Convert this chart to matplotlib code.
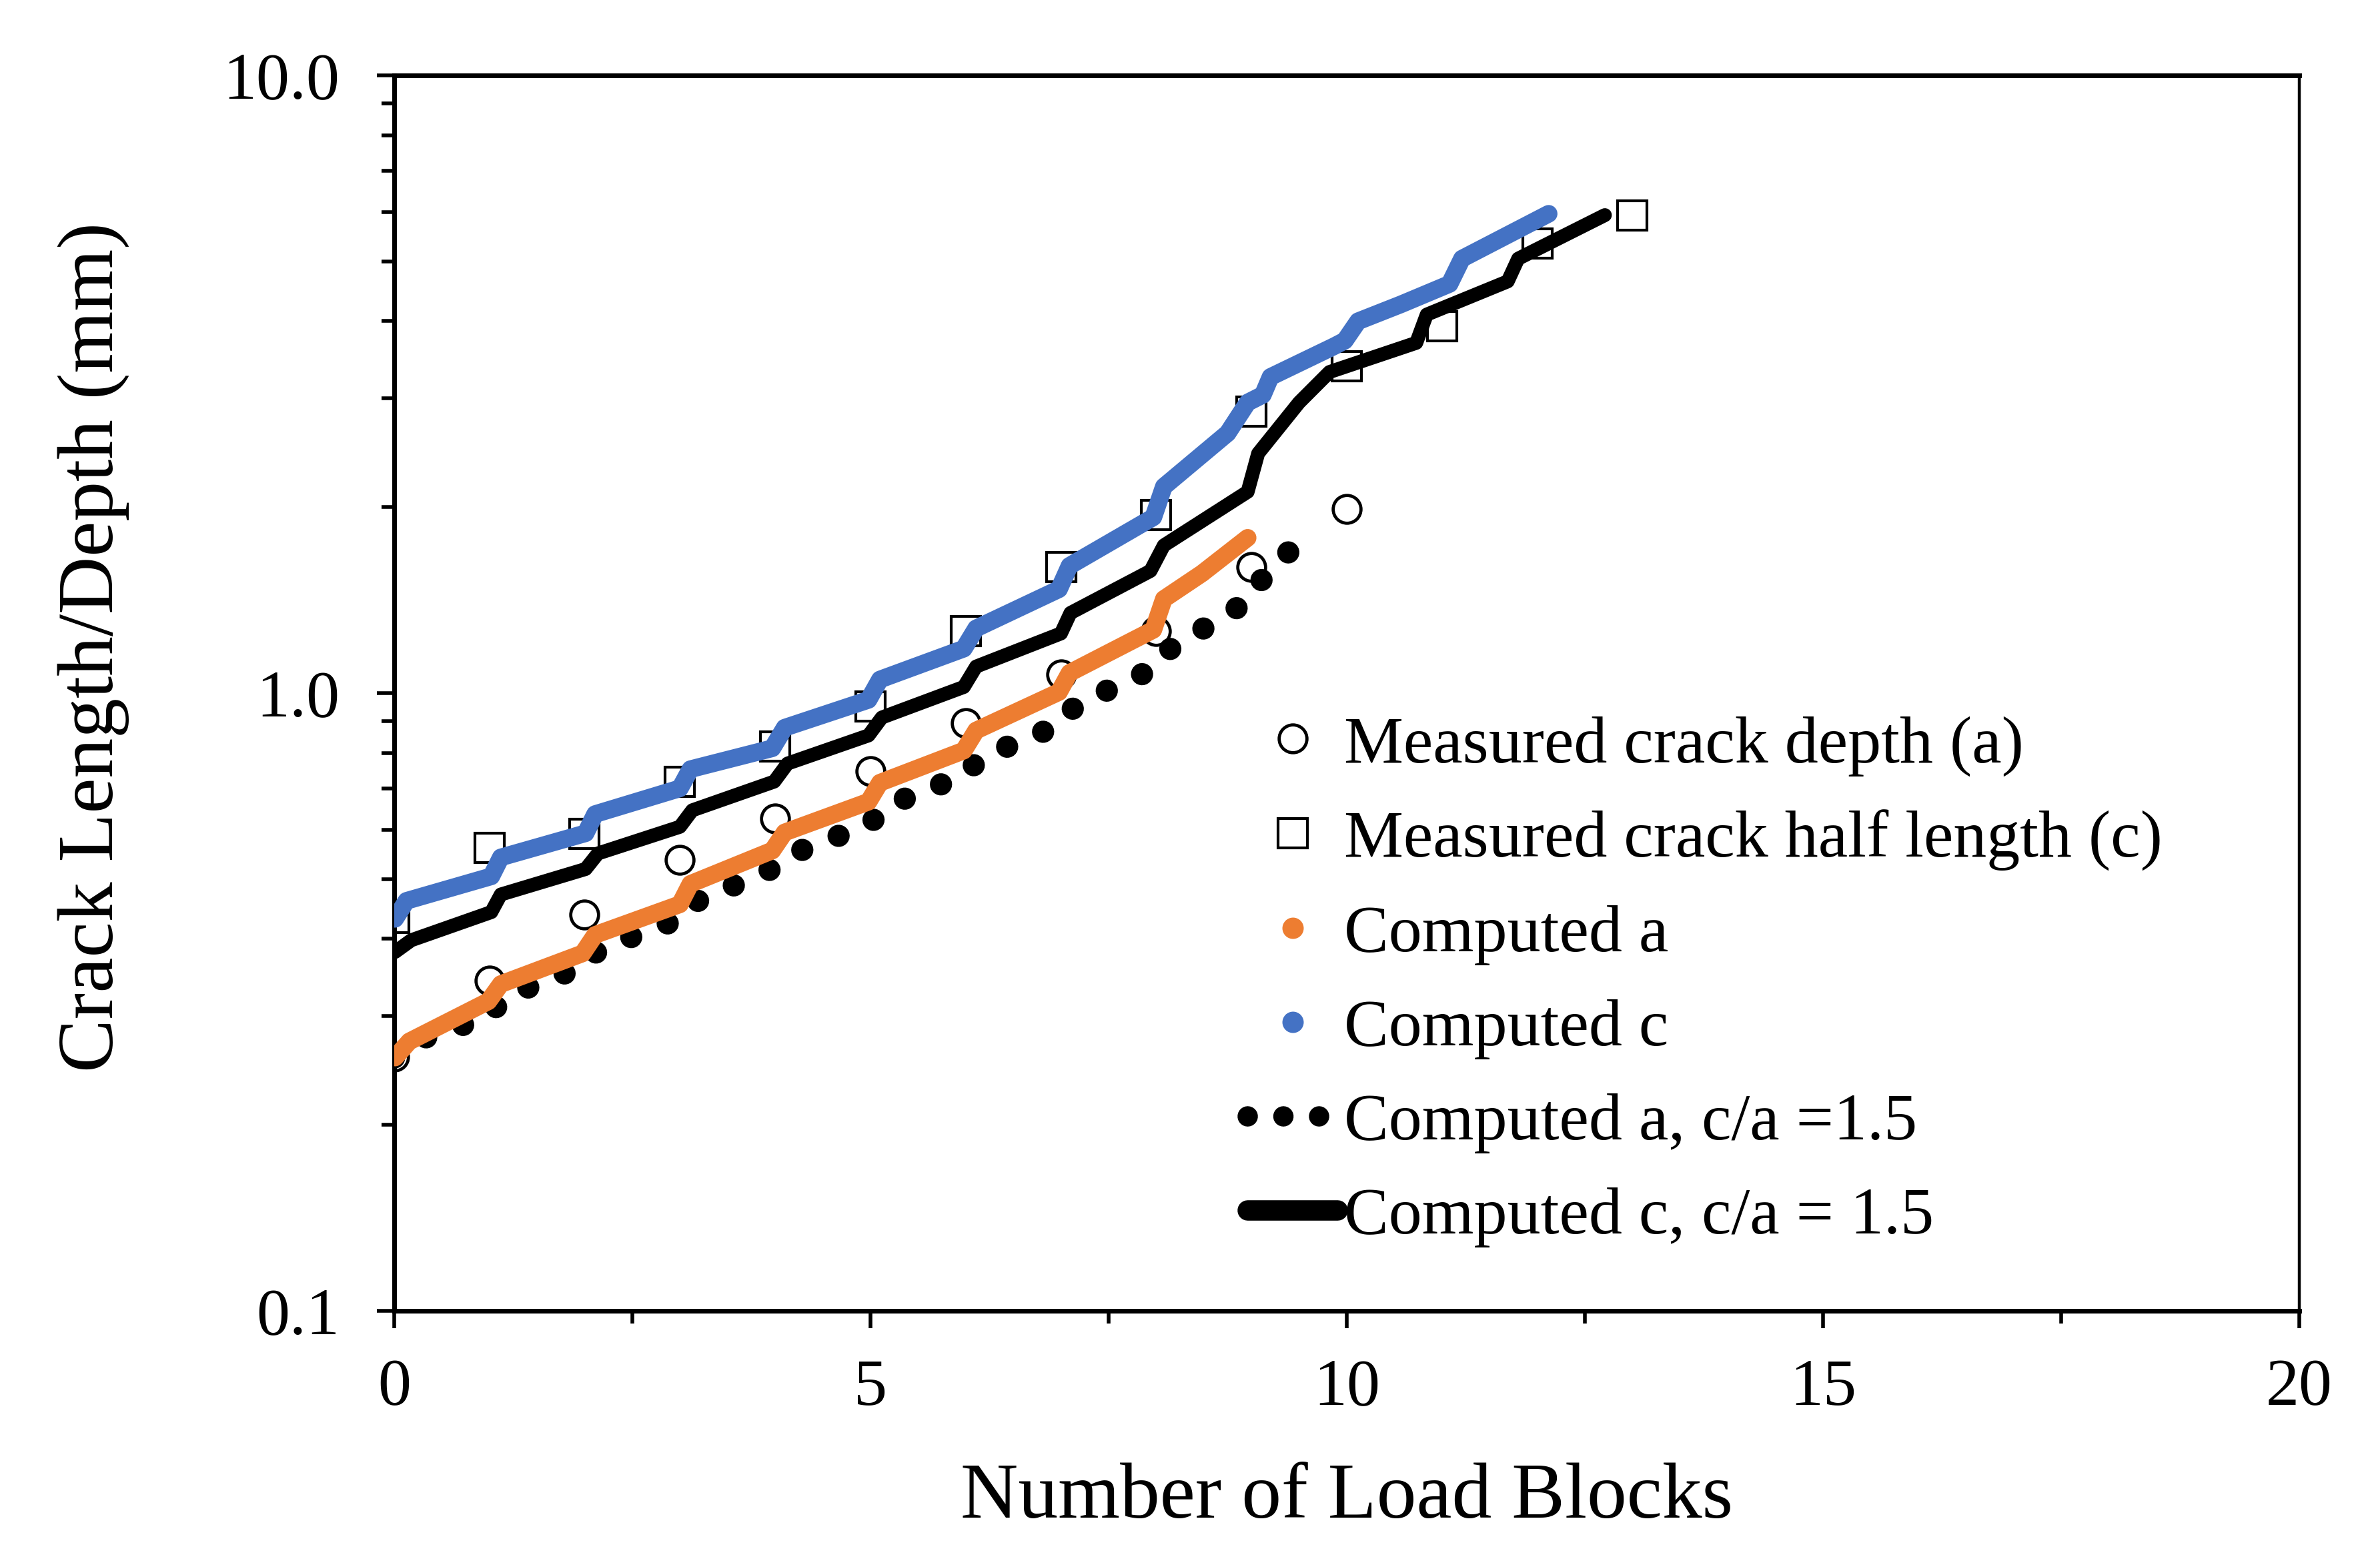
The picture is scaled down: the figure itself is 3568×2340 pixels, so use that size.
import matplotlib
matplotlib.use("Agg")
import matplotlib.pyplot as plt
from matplotlib.lines import Line2D
from matplotlib.ticker import FixedLocator, LogLocator, NullFormatter, FuncFormatter

plt.rcParams['font.family'] = ['Liberation Serif', 'DejaVu Serif']

# measured crack depth a (circles) and half length c (squares)
blocks_a = [0, 1, 2, 3, 4, 5, 6, 7, 8, 9, 10]
meas_a = [0.258, 0.342, 0.438, 0.537, 0.627, 0.747, 0.894, 1.073, 1.261, 1.599, 1.987]
blocks_c = [0, 1, 2, 3, 4, 5, 6, 7, 8, 9, 10, 11, 12, 13]
meas_c = [0.433, 0.561, 0.592, 0.719, 0.820, 0.952, 1.261, 1.599, 1.944, 2.858, 3.38, 3.93, 5.35, 5.93]

# computed a
comp_a_x = [0.01, 0.16, 0.99, 1.12, 1.98, 2.11, 3.00, 3.11, 3.97, 4.10, 4.98, 5.10,
            5.98, 6.11, 6.98, 7.09, 7.97, 8.08, 8.48, 8.96]
comp_a_y = [0.257, 0.273, 0.317, 0.338, 0.379, 0.406, 0.455, 0.491, 0.556, 0.595, 0.667, 0.716,
            0.807, 0.870, 1.004, 1.078, 1.266, 1.42, 1.562, 1.784]

# computed c
comp_c_x = [0.01, 0.13, 1.02, 1.12, 2.01, 2.11, 3.00, 3.11, 3.97, 4.10, 4.98, 5.10,
            5.98, 6.11, 6.98, 7.09, 7.97, 8.08, 8.75, 8.96, 9.12, 9.20, 9.87, 9.98,
            10.12, 10.57, 11.08, 11.21, 12.12]
comp_c_y = [0.431, 0.461, 0.505, 0.542, 0.593, 0.637, 0.701, 0.753, 0.814, 0.879, 0.975, 1.052,
            1.18, 1.273, 1.473, 1.607, 1.926, 2.159, 2.635, 2.954, 3.04, 3.25, 3.645, 3.72,
            4.0, 4.26, 4.596, 5.05, 5.97]

# computed a, c/a = 1.5
comp_a15_x = [0.0, 0.15, 1.0, 1.15, 2.0, 2.15, 3.0, 3.15, 4.0, 4.15, 5.0, 5.15,
              6.0, 6.15, 7.0, 7.15, 8.0, 8.15, 9.0, 9.15, 9.5]
comp_a15_y = [0.257, 0.271, 0.300, 0.322, 0.362, 0.385, 0.431, 0.458, 0.522, 0.547, 0.615, 0.655,
              0.738, 0.785, 0.890, 0.955, 1.10, 1.18, 1.42, 1.57, 1.75]

# computed c, c/a = 1.5
comp_c15_x = [0.01, 0.18, 1.02, 1.12, 2.01, 2.14, 3.00, 3.13, 3.99, 4.13, 4.98, 5.12,
              5.98, 6.11, 7.00, 7.10, 7.94, 8.08, 8.96, 9.07, 9.50, 9.82, 10.57, 10.73,
              10.84, 11.69, 11.80, 12.71]
comp_c15_y = [0.381, 0.398, 0.442, 0.472, 0.519, 0.550, 0.6075, 0.646, 0.719, 0.769, 0.854, 0.913,
              1.023, 1.104, 1.249, 1.348, 1.577, 1.734, 2.118, 2.443, 2.954, 3.31, 3.62, 3.69,
              4.10, 4.64, 5.05, 5.94]

orange = '#ED7D31'
blue = '#4472C4'

fig = plt.figure(figsize=(17.84, 11.70), dpi=200)
ax = fig.add_axes([0.1656, 0.1603, 0.8005, 0.7914])

ax.plot(blocks_a, meas_a, linestyle='none', marker='o', markersize=15,
        markerfacecolor='white', markeredgecolor='black', markeredgewidth=1.7, zorder=2)
ax.plot(blocks_c, meas_c, linestyle='none', marker='s', markersize=16,
        markerfacecolor='white', markeredgecolor='black', markeredgewidth=1.5, zorder=2)

dot_style = (0, (0.001, 1.75))
ax.plot(comp_a15_x, comp_a15_y, color='black', linewidth=12, linestyle=dot_style,
        dash_capstyle='round', zorder=3)
ax.plot(comp_c15_x, comp_c15_y, color='black', linewidth=7.5,
        solid_capstyle='round', solid_joinstyle='round', zorder=4)
ax.plot(comp_a_x, comp_a_y, color=orange, linewidth=9.5,
        solid_capstyle='round', solid_joinstyle='round', zorder=5)
ax.plot(comp_c_x, comp_c_y, color=blue, linewidth=9.5,
        solid_capstyle='round', solid_joinstyle='round', zorder=5)

ax.set_yscale('log')
ax.set_xlim(0, 20)
ax.set_ylim(0.1, 10)

ax.xaxis.set_major_locator(FixedLocator([0, 5, 10, 15, 20]))
ax.xaxis.set_minor_locator(FixedLocator([2.5, 7.5, 12.5, 17.5]))
ax.yaxis.set_major_locator(FixedLocator([0.1, 1.0, 10.0]))
ax.yaxis.set_minor_locator(LogLocator(base=10, subs=range(2, 10)))
ax.yaxis.set_minor_formatter(NullFormatter())
ax.yaxis.set_major_formatter(FuncFormatter(lambda v, p: '%.1f' % v))

ax.tick_params(axis='both', which='major', direction='out', labelsize=36, width=2.0,
               length=9.5, color='black')
ax.tick_params(axis='x', which='major', pad=16)
ax.tick_params(axis='y', which='major', pad=20)
ax.tick_params(axis='both', which='minor', direction='out', width=2.0, length=6.8)

for side in ['left', 'bottom', 'top']:
    ax.spines[side].set_linewidth(2.5)
ax.spines['right'].set_linewidth(1.6)

ax.set_xlabel('Number of Load Blocks', fontsize=43, labelpad=24)
ax.set_ylabel('Crack Length/Depth (mm)', fontsize=43)
ax.yaxis.set_label_coords(-0.139, 0.537)

handles = [
    Line2D([], [], linestyle='none', marker='o', markersize=15, markerfacecolor='white',
           markeredgecolor='black', markeredgewidth=1.7),
    Line2D([], [], linestyle='none', marker='s', markersize=16, markerfacecolor='white',
           markeredgecolor='black', markeredgewidth=1.5),
    Line2D([], [], linestyle='none', marker='o', markersize=10.5, color=orange),
    Line2D([], [], linestyle='none', marker='o', markersize=10.5, color=blue),
    Line2D([], [], color='black', linewidth=11, linestyle=(0, (0.001, 1.75)),
           dash_capstyle='round'),
    Line2D([], [], color='black', linewidth=11, solid_capstyle='round'),
]
labels = ['Measured crack depth (a)', 'Measured crack half length (c)', 'Computed a',
          'Computed c', 'Computed a, c/a =1.5', 'Computed c, c/a = 1.5']
ax.legend(handles, labels, loc='upper left', bbox_to_anchor=(0.448, 0.482), frameon=False,
          fontsize=36, handlelength=1.35, handletextpad=0.1, labelspacing=0.5,
          borderpad=0, borderaxespad=0)

fig.savefig('out.png', dpi=200)
